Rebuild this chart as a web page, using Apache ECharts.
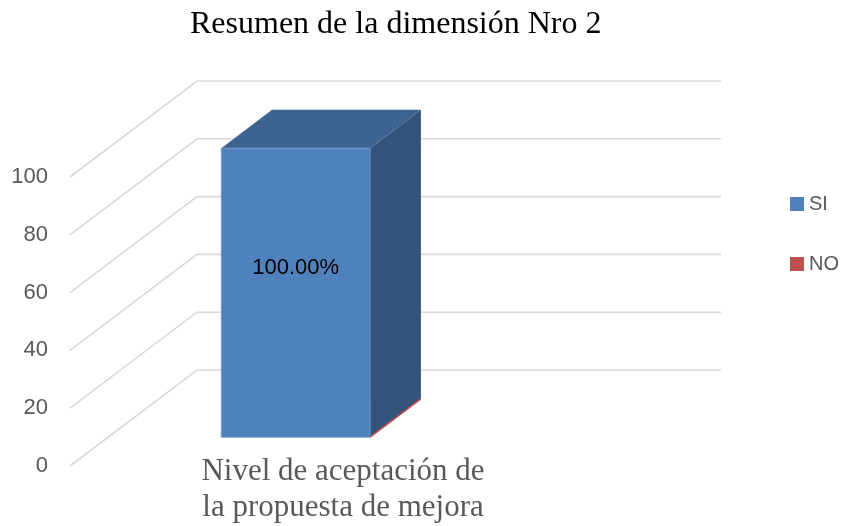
<!DOCTYPE html>
<html>
<head>
<meta charset="utf-8">
<script src="https://cdn.jsdelivr.net/npm/echarts@6/dist/echarts.min.js"></script>
<style>html,body{margin:0;padding:0;background:#fff;}#c{width:844px;height:526px;}</style>
</head>
<body>
<div id="c"></div>
<script>
// ---- data ----
const titleText = 'Resumen de la dimensión Nro 2';
const categories = ['Nivel de aceptación de\nla propuesta de mejora'];
const seriesNames = ['SI', 'NO'];
const siValues = [100];
const noValues = [0];
const yTicks = [0, 20, 40, 60, 80, 100];

// ---- styling / layout constants ----
const DX = 127, DY = -96;        // full depth offset of the 3D box
const D1 = 0.30, D2 = 0.70;      // bar front / back depth fractions
const BAR_RATIO = 0.284;         // bar width relative to category band
const COLORS = {
  SI: { front: '#4F81BD', top: '#3D6391', side: '#33537B' },
  NO: { front: '#C0504D', top: '#9A3F3D', side: '#8A3735' }
};

const chart = echarts.init(document.getElementById('c'));

function gridRender(params, api) {
  const cs = params.coordSys;
  const y = api.coord([0, api.value(1)])[1];
  return {
    type: 'polyline',
    shape: { points: [[cs.x, y], [cs.x + DX, y + DY], [cs.x + cs.width + DX, y + DY]] },
    style: { stroke: '#D9D9D9', lineWidth: 1.6, fill: null },
    silent: true
  };
}

function makeBarRender(slot, colors) {
  return function (params, api) {
    const ci = api.value(0);
    const v = api.value(1);
    const base = api.coord([ci, 0]);
    const topP = api.coord([ci, v]);
    const band = api.size([1, 0])[0];
    const bw = band * BAR_RATIO;
    const x0 = base[0] - bw + slot * bw;
    const yb = base[1], yt = topP[1];
    const fx0 = x0 + D1 * DX, fx1 = x0 + bw + D1 * DX;
    const bx0 = x0 + D2 * DX, bx1 = x0 + bw + D2 * DX;
    const fyT = yt + D1 * DY, fyB = yb + D1 * DY;
    const byT = yt + D2 * DY, byB = yb + D2 * DY;
    if (v === 0) {
      return {
        type: 'line',
        shape: { x1: fx0, y1: fyB, x2: bx0, y2: byB },
        style: { stroke: colors.front, lineWidth: 1.5 }
      };
    }
    const children = [
      { type: 'polygon', shape: { points: [[fx1, fyT], [bx1, byT], [bx1, byB], [fx1, fyB]] }, style: { fill: colors.side } },
      { type: 'polygon', shape: { points: [[fx0, fyT], [fx1, fyT], [bx1, byT], [bx0, byT]] }, style: { fill: colors.top } },
      { type: 'rect', shape: { x: fx0, y: fyT, width: fx1 - fx0, height: fyB - fyT }, style: { fill: colors.front, stroke: '#6A95CC', lineWidth: 0.8 } },
      { type: 'text', x: (fx0 + fx1) / 2, y: fyB - (fyB - fyT) * 0.585,
        style: { text: v.toFixed(2) + '%', fill: '#000', font: '22px "Liberation Sans", Arial, sans-serif', align: 'center', verticalAlign: 'middle' } }
    ];
    return { type: 'group', children: children };
  };
}

chart.setOption({
  animation: false,
  backgroundColor: '#fff',
  title: {
    text: titleText,
    left: 190,
    top: 9,
    padding: 0,
    textStyle: { fontFamily: '"Liberation Serif", "Times New Roman", serif', fontSize: 32, fontWeight: 'normal', color: '#000' }
  },
  legend: {
    data: seriesNames,
    orient: 'vertical',
    left: 790,
    top: 194,
    padding: 0,
    itemWidth: 14,
    itemHeight: 14,
    itemGap: 40,
    icon: 'rect',
    textStyle: { fontFamily: '"Liberation Sans", Arial, sans-serif', fontSize: 20, lineHeight: 20, color: '#595959' }
  },
  grid: { left: 70, right: 250, top: 177, bottom: 60 },
  xAxis: {
    type: 'category',
    data: categories,
    axisLine: { show: false },
    axisTick: { show: false },
    splitLine: { show: false },
    axisLabel: {
      margin: -12,
      padding: [0, 0, 0, 22],
      fontFamily: '"Liberation Serif", "Times New Roman", serif',
      fontSize: 31,
      lineHeight: 36,
      color: '#595959'
    }
  },
  yAxis: {
    type: 'value',
    min: 0,
    max: 100,
    interval: 20,
    axisLine: { show: false },
    axisTick: { show: false },
    splitLine: { show: false },
    axisLabel: {
      margin: 22,
      padding: [4, 0, 0, 0],
      fontFamily: '"Liberation Sans", Arial, sans-serif',
      fontSize: 22,
      color: '#595959'
    }
  },
  series: [
    {
      name: 'grid3d', type: 'custom', renderItem: gridRender, clip: false, silent: true, z: 1,
      data: yTicks.map(t => [0, t])
    },
    {
      name: 'SI', type: 'custom', renderItem: makeBarRender(0, COLORS.SI), clip: false, z: 3,
      itemStyle: { color: COLORS.SI.front },
      data: siValues.map((v, i) => [i, v])
    },
    {
      name: 'NO', type: 'custom', renderItem: makeBarRender(1, COLORS.NO), clip: false, z: 4,
      itemStyle: { color: COLORS.NO.front },
      data: noValues.map((v, i) => [i, v])
    }
  ]
});
</script>
</body>
</html>
